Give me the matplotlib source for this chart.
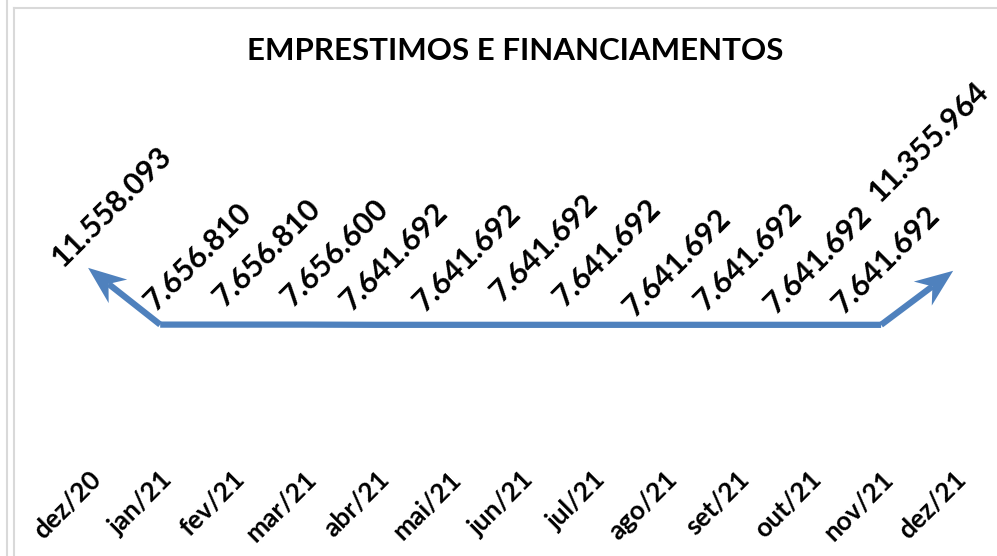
import matplotlib
matplotlib.use('Agg')
import matplotlib.pyplot as plt
from matplotlib.patches import Polygon
from matplotlib.transforms import ScaledTranslation
from matplotlib.lines import Line2D
import numpy as np

# data
meses = ['dez/20', 'jan/21', 'fev/21', 'mar/21', 'abr/21', 'mai/21', 'jun/21',
         'jul/21', 'ago/21', 'set/21', 'out/21', 'nov/21', 'dez/21']
valores = [11558093, 7656810, 7656810, 7656600, 7641692, 7641692, 7641692,
           7641692, 7641692, 7641692, 7641692, 7641692, 11355964]
titulo = 'EMPRESTIMOS E FINANCIAMENTOS'

azul = '#4F81BD'
plt.rcParams['font.family'] = ['Lato', 'DejaVu Sans']
plt.rcParams['font.weight'] = 'bold'

fig = plt.figure(figsize=(9.97, 5.56), dpi=100)
ax = fig.add_axes([0.0522, 0.2158, 0.940, 0.5234])
x = np.arange(len(meses))
ax.set_xlim(-0.5, len(meses) - 0.5)
ax.set_ylim(0, 20000000)

# line between first and last month, arrows at the ends
ax.plot(x[1:-1], valores[1:-1], color=azul, lw=4.5, solid_joinstyle='miter',
        solid_capstyle='butt')


def seta(i_from, i_to):
    p0 = ax.transData.transform((x[i_from], valores[i_from]))
    p1 = ax.transData.transform((x[i_to], valores[i_to]))
    d = (p1 - p0) / np.hypot(*(p1 - p0))
    n = np.array([-d[1], d[0]])
    L, W, notch = 38, 15, 12  # pixels
    # shaft to the base of the head
    base = p1 - d * (L - notch)
    inv = ax.transData.inverted()
    b = inv.transform(base)
    ax.add_line(Line2D([x[i_from], b[0]], [valores[i_from], b[1]], color=azul,
                       lw=4.5, solid_capstyle='butt'))
    pts = np.array([[0, 0], -d * L + n * W, -d * (L - notch), -d * L - n * W]) / fig.dpi
    tr = fig.dpi_scale_trans + ScaledTranslation(x[i_to], valores[i_to], ax.transData)
    ax.add_patch(Polygon(pts, closed=True, transform=tr, color=azul, lw=0))


seta(1, 0)
seta(len(meses) - 2, len(meses) - 1)

# data labels, offsets in pixels from the point (x right, y up)
offsets = [(-25, 0), (-5, 13), (-8, 17), (-12, 17), (-25, 13), (-24, 12),
           (-19, 22), (-28, 17), (-30, 7), (-31, 13), (-33, 10), (-37, 10),
           (-73, 68)]
for i, v in enumerate(valores):
    txt = f'{v:,}'.replace(',', '.')
    dx, dy = offsets[i]
    ax.annotate(txt, (x[i], v), xytext=(dx * 0.72, dy * 0.72),
                textcoords='offset points', rotation=45, rotation_mode='anchor',
                ha='left', va='baseline', fontsize=22, fontweight='bold',
                color='black')

ax.set_xticks(x)
ax.set_xticklabels(meses, fontsize=19, fontweight='bold')
plt.setp(ax.get_xticklabels(), rotation=45, ha='right', rotation_mode='anchor')
ax.tick_params(axis='x', length=0, pad=22)
ax.set_yticks([])
for s in ax.spines.values():
    s.set_visible(False)

fig.text(0.517, 0.908, titulo, ha='center', va='center', fontsize=22.5,
         fontweight='bold')

# borders of the frame
fig.add_artist(Line2D([7 / 997, 7 / 997], [0, 1], color='#D9D9D9', lw=1.5))
fig.add_artist(Line2D([14 / 997, 14 / 997], [0, 1 - 8 / 556], color='#D9D9D9', lw=1.5))
fig.add_artist(Line2D([14 / 997, 1], [1 - 8 / 556, 1 - 8 / 556], color='#D9D9D9', lw=1.5))

fig.savefig('out.png', dpi=100)
